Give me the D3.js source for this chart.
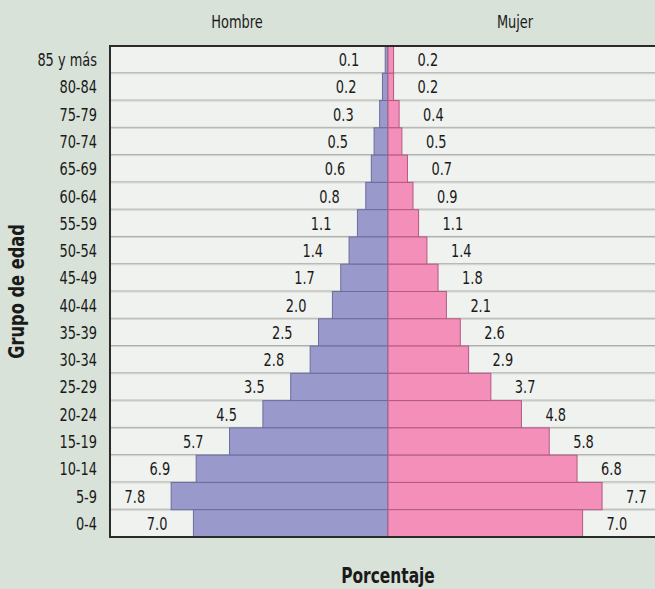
<!DOCTYPE html>
<html>
<head>
<meta charset="utf-8">
<script src="https://cdn.jsdelivr.net/npm/d3@7"></script>
<style>
  html, body { margin: 0; padding: 0; background: #d8e2d8; overflow: hidden; }
  svg { display: block; font-family: "DejaVu Sans Condensed", "DejaVu Sans", sans-serif; }
</style>
</head>
<body>
<svg id="chart"></svg>
<script>
const ages = ["85 y más", "80-84", "75-79", "70-74", "65-69", "60-64", "55-59", "50-54", "45-49",
  "40-44", "35-39", "30-34", "25-29", "20-24", "15-19", "10-14", "5-9", "0-4"];
const hombre = [0.1, 0.2, 0.3, 0.5, 0.6, 0.8, 1.1, 1.4, 1.7, 2.0, 2.5, 2.8, 3.5, 4.5, 5.7, 6.9, 7.8, 7.0];
const mujer = [0.2, 0.2, 0.4, 0.5, 0.7, 0.9, 1.1, 1.4, 1.8, 2.1, 2.6, 2.9, 3.7, 4.8, 5.8, 6.8, 7.7, 7.0];
const xDomain = [-10, 10];

const width = 655;
const height = 589;
const plotL = 110, plotR = 666, plotT = 46, plotB = 537;
const fs = 18, sx = 0.8;   // condensed look: big font squeezed sideways

const svg = d3.select("#chart").attr("width", width).attr("height", height);

svg.append("rect").attr("width", width).attr("height", height).attr("fill", "#d8e2d8");

const x = d3.scaleLinear().domain(xDomain).range([plotL, plotR]);
const y = d3.scaleBand().domain(ages).range([plotT, plotB]).padding(0);

function label(g, px, py, txt, anchor, size, scale, bold) {
  return g.append("text")
    .attr("transform", "translate(" + px + "," + py + ") scale(" + scale + ",1)")
    .attr("text-anchor", anchor)
    .attr("font-size", size)
    .attr("font-weight", bold ? "bold" : null)
    .attr("fill", "#1a1a1a")
    .text(txt);
}

// plot background
svg.append("rect")
  .attr("x", plotL).attr("y", plotT)
  .attr("width", plotR - plotL).attr("height", plotB - plotT)
  .attr("fill", "#f0f2ef");

// row separators
const seps = ages.slice(1);
svg.selectAll(".sep")
  .data(seps)
  .enter().append("line")
  .attr("class", "sep")
  .attr("x1", plotL).attr("x2", plotR)
  .attr("y1", d => y(d) - 0.5).attr("y2", d => y(d) - 0.5)
  .attr("stroke", "#a9aaa8").attr("stroke-width", 1);
svg.selectAll(".sep2")
  .data(seps)
  .enter().append("line")
  .attr("class", "sep2")
  .attr("x1", plotL).attr("x2", plotR)
  .attr("y1", d => y(d) + 0.5).attr("y2", d => y(d) + 0.5)
  .attr("stroke", "#cfd1ce").attr("stroke-width", 1);

const rows = ages.map((a, i) => ({ age: a, h: hombre[i], m: mujer[i] }));

// hombre bars
svg.selectAll(".bar-h")
  .data(rows)
  .enter().append("rect")
  .attr("class", "bar-h")
  .attr("x", d => x(-d.h))
  .attr("y", d => y(d.age))
  .attr("width", d => x(0) - x(-d.h))
  .attr("height", y.bandwidth())
  .attr("fill", "#9999cc")
  .attr("stroke", "#6c6c9c")
  .attr("stroke-width", 1);

// mujer bars
svg.selectAll(".bar-m")
  .data(rows)
  .enter().append("rect")
  .attr("class", "bar-m")
  .attr("x", x(0))
  .attr("y", d => y(d.age))
  .attr("width", d => x(d.m) - x(0))
  .attr("height", y.bandwidth())
  .attr("fill", "#f48fb9")
  .attr("stroke", "#b25a80")
  .attr("stroke-width", 1);

// value labels
const labels = svg.append("g");
rows.forEach(d => {
  const cy = y(d.age) + y.bandwidth() / 2 + 6.5;
  label(labels, x(-d.h) - 26, cy, d.h.toFixed(1), "end", fs, sx);
  label(labels, x(d.m) + 24, cy, d.m.toFixed(1), "start", fs, sx);
});

// y axis labels
svg.append("g")
  .attr("transform", "translate(" + plotL + ",0)")
  .call(d3.axisLeft(y).tickSize(0))
  .call(g => g.select(".domain").remove())
  .selectAll("text")
  .attr("x", -13 / sx)
  .attr("dy", null)
  .attr("y", 6.5)
  .attr("transform", "scale(" + sx + ",1)")
  .attr("font-size", fs)
  .attr("font-family", "DejaVu Sans Condensed, DejaVu Sans, sans-serif")
  .attr("fill", "#1a1a1a");

// frame (left, top, bottom)
svg.append("path")
  .attr("d", "M" + plotR + "," + plotT + "H" + plotL + "V" + plotB + "H" + plotR)
  .attr("fill", "none")
  .attr("stroke", "#2a2a2a")
  .attr("stroke-width", 2);

// headings
label(svg, 237, 28, "Hombre", "middle", fs, sx);
label(svg, 515, 28, "Mujer", "middle", fs, sx);
label(svg, x(0), 583, "Porcentaje", "middle", 22, 0.78, true);

svg.append("text")
  .attr("transform", "translate(24," + ((plotT + plotB) / 2) + ") rotate(-90) scale(0.82,1)")
  .attr("text-anchor", "middle")
  .attr("font-size", 22)
  .attr("font-weight", "bold")
  .attr("fill", "#1a1a1a")
  .text("Grupo de edad");
</script>
</body>
</html>
